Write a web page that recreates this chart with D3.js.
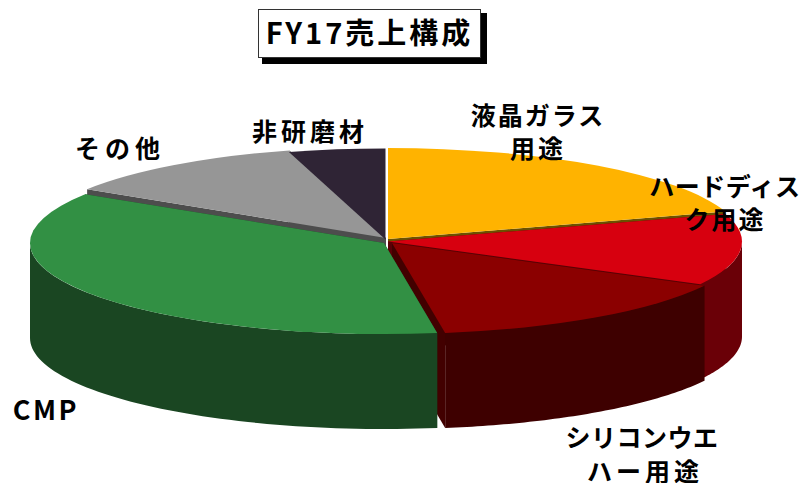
<!DOCTYPE html>
<html><head><meta charset="utf-8">
<script src="https://cdn.jsdelivr.net/npm/d3@7"></script>
<style>html,body{margin:0;padding:0;background:#fff}svg{display:block}
text{font-family:"Noto Sans CJK JP","Liberation Sans",sans-serif;font-weight:700;fill:#000}</style>
</head><body><svg id="c" width="801" height="483"></svg>
<script>
const categories = ["液晶ガラス用途","ハードディスク用途","シリコンウエハー用途","CMP","その他","非研磨材"];
const shares = [20.1,12.7,14.8,36.4,11.6,4.4];
const labelLines = [["液晶ガラス","用途"],["ハードディス","ク用途"],["シリコンウエ","ハー用途"],["CMP"],["その他"],["非研磨材"]];
const topColors = ["#ffb300","#d7000f","#8b0000","#329044","#969696","#2f2435"];
const wallColors = ["#6b5100","#6a0007","#3e0000","#1a4622","#4d4d4d","#1a1420"];
const cutColors = ["#6b5100","#5a0006","#420000","#1a4622","#4d4d4d","#444048"];
const title = "FY17売上構成";

// layout
const rx = 354, ry = 91, depth = 95;
const origins = [[388,239],[388,241.5],[392,243],[384,243],[386,238],[385.5,239.5]];
const labelPos = [[[538,125],[538,158]],[[725,196],[725,229]],[[642,447],[645,481]],[[46,420]],[[120,158]],[[310,141]]];
const labelSpacing = [[2,3],[0.5,2],[0.5,4],[2.5],[5],[4]];
const labelSize = [[25,25],[25,25],[25,25],[27],[25],[25]];

const svg = d3.select("#c");
const pie = d3.pie().sort(null).value(d=>d);
const arcs = pie(shares);
const arcGen = d3.arc().innerRadius(0).outerRadius(rx);
const line = d3.line();
const pt = (i,a,dz=0)=>[origins[i][0]+rx*Math.sin(a), origins[i][1]-ry*Math.cos(a)+dz];
const rimPoints = (i,a0,a1,dz)=>d3.range(0,61).map(s=>pt(i,a0+(a1-a0)*s/60,dz));

// cut walls + outer walls, back to front
const order = [5,0,4,1,2,3];
const gWalls = svg.append("g");
order.forEach(i=>{
  const d = arcs[i];
  [d.startAngle,d.endAngle].forEach(a=>{
    const e = pt(i,a), o = origins[i];
    gWalls.append("path")
      .attr("d", line([o,e,[e[0],e[1]+depth],[o[0],o[1]+depth]])+"Z")
      .attr("fill", cutColors[i]);
  });
  const a0 = Math.max(d.startAngle,Math.PI/2), a1 = Math.min(d.endAngle,Math.PI*1.5);
  if (a1>a0) {
    const top = rimPoints(i,a0,a1,0), bot = rimPoints(i,a0,a1,depth).reverse();
    gWalls.append("path").attr("d", line(top.concat(bot))+"Z").attr("fill", wallColors[i]);
  }
});

// top faces
const gTop = svg.append("g");
[4,5,0,1,2,3].forEach(i=>{
  gTop.append("path")
    .attr("transform",`translate(${origins[i][0]},${origins[i][1]}) scale(1,${ry/rx})`)
    .attr("d", arcGen(arcs[i]))
    .attr("fill", topColors[i]);
});

// labels
const gLab = svg.append("g");
labelLines.forEach((ls,i)=>{
  ls.forEach((t,j)=>{
    gLab.append("text")
      .attr("x",labelPos[i][j][0]).attr("y",labelPos[i][j][1])
      .attr("text-anchor","middle")
      .attr("font-size",labelSize[i][j])
      .attr("letter-spacing",labelSpacing[i][j])
      .text(t);
  });
});

// title
svg.append("rect").attr("x",262).attr("y",13).attr("width",225).attr("height",51).attr("fill","#000");
svg.append("rect").attr("x",258.5).attr("y",9.5).attr("width",222).attr("height",48).attr("fill","#fff").attr("stroke","#333").attr("stroke-width",1);
svg.append("text").attr("x",369.5).attr("y",44).attr("text-anchor","middle").attr("font-size",29).attr("letter-spacing",3).text(title);
</script></body></html>
